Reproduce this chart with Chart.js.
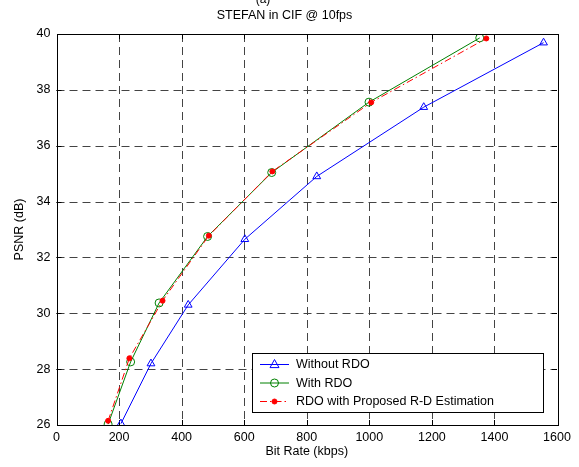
<!DOCTYPE html>
<html>
<head>
<meta charset="utf-8">
<script src="https://cdn.jsdelivr.net/npm/chart.js@4"></script>
<style>
  html, body { margin: 0; padding: 0; background: #fff; }
  #wrap { width: 579px; height: 467px; position: relative; }
</style>
</head>
<body>
<div id="wrap"><canvas id="psnrChart"></canvas></div>
<script>
// data (kbps, dB)
const withoutRdoRate = [206, 302, 421, 602, 832, 1174, 1557];
const withoutRdoPsnr = [26.05, 28.2, 30.3, 32.65, 34.9, 37.38, 39.69];
const withRdoRate = [165, 237, 328, 483, 688, 999, 1353];
const withRdoPsnr = [26.03, 28.26, 30.37, 32.75, 35.04, 37.56, 39.86];
const proposedRate = [165, 233, 339, 487, 690, 1006, 1374];
const proposedPsnr = [26.15, 28.39, 30.45, 32.78, 35.08, 37.55, 39.84];

const seriesLabels = ['Without RDO', 'With RDO', 'RDO with Proposed R-D Estimation'];
const xTicks = [0, 200, 400, 600, 800, 1000, 1200, 1400, 1600];
const yTicks = [26, 28, 30, 32, 34, 36, 38, 40];

const FONT = '"Liberation Sans", Arial, sans-serif';

function toPoints(xs, ys) {
    return xs.map((x, i) => ({ x: x, y: ys[i] }));
}

// matlab style dashed grid + inner tick marks
const matlabGrid = {
    id: 'matlabGrid',
    beforeDatasetsDraw(chart) {
        const c = chart.ctx;
        const a = chart.chartArea;
        const xs = chart.scales.x, ys = chart.scales.y;
        c.save();
        c.lineWidth = 1;
        c.strokeStyle = '#444';
        c.setLineDash([8, 5]);
        xTicks.slice(1, -1).forEach(v => {
            const px = Math.round(xs.getPixelForValue(v)) + 0.5;
            c.beginPath();
            c.moveTo(px, a.top);
            c.lineTo(px, a.bottom);
            c.stroke();
        });
        yTicks.slice(1, -1).forEach(v => {
            const py = Math.round(ys.getPixelForValue(v)) + 0.5;
            c.beginPath();
            c.moveTo(a.left, py);
            c.lineTo(a.right, py);
            c.stroke();
        });
        // ticks pointing inwards
        c.setLineDash([]);
        c.strokeStyle = '#000';
        const t = 5;
        xTicks.slice(1, -1).forEach(v => {
            const px = Math.round(xs.getPixelForValue(v)) + 0.5;
            c.beginPath();
            c.moveTo(px, a.bottom); c.lineTo(px, a.bottom - t);
            c.moveTo(px, a.top); c.lineTo(px, a.top + t);
            c.stroke();
        });
        yTicks.slice(1, -1).forEach(v => {
            const py = Math.round(ys.getPixelForValue(v)) + 0.5;
            c.beginPath();
            c.moveTo(a.left, py); c.lineTo(a.left + t, py);
            c.moveTo(a.right, py); c.lineTo(a.right - t, py);
            c.stroke();
        });
        c.restore();
    }
};

// box around the plot + legend inside the axes + the cut "(a)"
const boxAndLegend = {
    id: 'boxAndLegend',
    afterDraw(chart) {
        const c = chart.ctx;
        const a = chart.chartArea;
        c.save();
        c.strokeStyle = '#000';
        c.lineWidth = 1;
        c.setLineDash([]);
        c.strokeRect(Math.round(a.left) + 0.5, Math.round(a.top) + 0.5,
            Math.round(a.right - a.left), Math.round(a.bottom - a.top));

        // legend
        const lx = 252, ly = 353, lw = 291, lh = 59;
        c.fillStyle = '#fff';
        c.fillRect(lx, ly, lw, lh);
        c.strokeRect(lx + 0.5, ly + 0.5, lw, lh);
        const rows = [364, 382.5, 401];
        chart.data.datasets.forEach((ds, i) => {
            const y = rows[i];
            c.strokeStyle = ds.borderColor;
            c.lineWidth = 1;
            c.setLineDash(ds.borderDash || []);
            c.beginPath();
            c.moveTo(260, y + 0.5);
            c.lineTo(289, y + 0.5);
            c.stroke();
            c.setLineDash([]);
            const mx = 274.5;
            c.beginPath();
            if (ds.pointStyle === 'triangle') {
                const r = ds.pointRadius;
                c.moveTo(mx, y - r);
                c.lineTo(mx + r, y + r * 0.8);
                c.lineTo(mx - r, y + r * 0.8);
                c.closePath();
                c.stroke();
            } else {
                c.arc(mx, y + 0.5, ds.pointRadius, 0, Math.PI * 2);
                if (ds.pointBackgroundColor !== 'transparent') {
                    c.fillStyle = ds.pointBackgroundColor;
                    c.fill();
                }
                c.stroke();
            }
            c.fillStyle = '#000';
            c.font = '12.5px ' + FONT;
            c.textBaseline = 'middle';
            c.textAlign = 'left';
            c.fillText(ds.label, 296, y + 1);
        });

        // "(a)" label, cut off by the top edge
        c.fillStyle = '#000';
        c.font = '12px ' + FONT;
        c.textAlign = 'center';
        c.textBaseline = 'alphabetic';
        c.fillText('(a)', 263, 3);
        c.restore();
    }
};

const ctx = document.getElementById('psnrChart').getContext('2d');

const psnrChart = new Chart(ctx, {
    type: 'line',
    data: {
        datasets: [{
            label: seriesLabels[0],
            data: toPoints(withoutRdoRate, withoutRdoPsnr),
            borderColor: '#0000ff',
            borderWidth: 1,
            pointStyle: 'triangle',
            pointRadius: 4.5,
            pointBorderColor: '#0000ff',
            pointBackgroundColor: 'transparent',
            pointBorderWidth: 1,
            order: 2
        }, {
            label: seriesLabels[1],
            data: toPoints(withRdoRate, withRdoPsnr),
            borderColor: '#008000',
            borderWidth: 1,
            pointStyle: 'circle',
            pointRadius: 4,
            pointBorderColor: '#008000',
            pointBackgroundColor: 'transparent',
            pointBorderWidth: 1,
            order: 1
        }, {
            label: seriesLabels[2],
            data: toPoints(proposedRate, proposedPsnr),
            borderColor: '#ff0000',
            borderWidth: 1,
            borderDash: [7, 3, 1.5, 3],
            pointStyle: 'circle',
            pointRadius: 2.5,
            pointBorderColor: '#ff0000',
            pointBackgroundColor: '#ff0000',
            pointBorderWidth: 1,
            order: 0
        }]
    },
    options: {
        responsive: true,
        maintainAspectRatio: false,
        animation: false,
        layout: {
            padding: { left: 12, right: 22, top: 0, bottom: 7.5 }
        },
        plugins: {
            legend: { display: false },
            tooltip: { enabled: false },
            title: {
                display: true,
                text: 'STEFAN in CIF @ 10fps',
                color: '#000',
                font: { family: FONT, size: 12.5, weight: 'normal' },
                padding: { top: 8, bottom: 11 }
            }
        },
        scales: {
            x: {
                type: 'linear',
                min: 0,
                max: 1600,
                afterBuildTicks: (scale) => {
                    scale.ticks = xTicks.map(v => ({ value: v }));
                },
                afterFit: (scale) => {
                    scale.height = 34.5;
                },
                ticks: {
                    color: '#000',
                    font: { family: FONT, size: 12.5 },
                    padding: 5,
                    maxRotation: 0,
                    callback: (v) => String(v)
                },
                grid: { display: false, drawTicks: false },
                border: { display: false },
                title: {
                    display: true,
                    text: 'Bit Rate (kbps)',
                    color: '#000',
                    font: { family: FONT, size: 12.5 },
                    padding: { top: 0, bottom: 0 }
                }
            },
            y: {
                type: 'linear',
                min: 26,
                max: 40,
                afterBuildTicks: (scale) => {
                    scale.ticks = yTicks.map(v => ({ value: v }));
                },
                afterFit: (scale) => {
                    scale.width = 44.5;
                },
                ticks: {
                    color: '#000',
                    font: { family: FONT, size: 12.5 },
                    padding: 6,
                    callback: (v) => String(v)
                },
                grid: { display: false, drawTicks: false },
                border: { display: false },
                title: {
                    display: true,
                    text: 'PSNR (dB)',
                    color: '#000',
                    font: { family: FONT, size: 12.5 },
                    padding: { top: 0, bottom: 4 }
                }
            }
        }
    },
    plugins: [matlabGrid, boxAndLegend]
});
</script>
</body>
</html>
